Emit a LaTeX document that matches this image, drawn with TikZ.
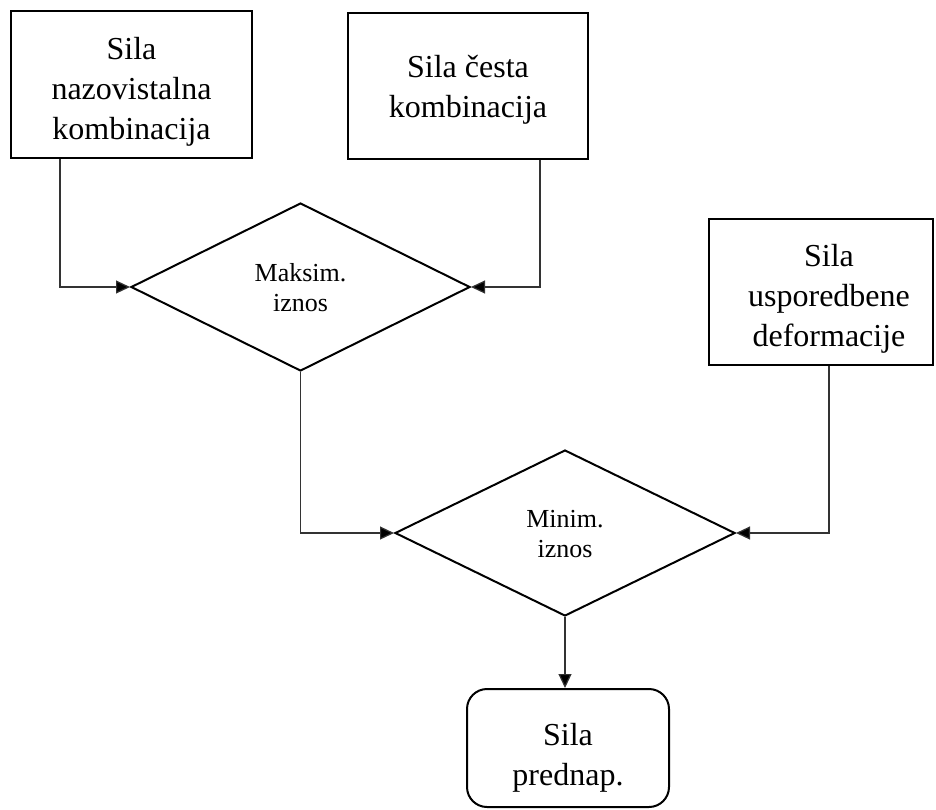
\documentclass[tikz,border=0pt]{standalone}
\usepackage{fontspec}
\setmainfont{Liberation Serif}
\usetikzlibrary{shapes.geometric,arrows.meta}
\newcommand{\lns}[2]{\raisebox{#1}[\height][\depth]{\begin{tabular}{@{}c@{}}#2\end{tabular}}}
\begin{document}
\begin{tikzpicture}[x=1pt,y=-1pt,
  boxnode/.style={draw,line width=2pt,rectangle,inner sep=0pt,
    font=\fontsize{32}{40}\selectfont},
  decnode/.style={draw,line width=2pt,diamond,inner sep=0pt,
    font=\fontsize{26}{30}\selectfont},
  endnode/.style={draw,line width=2pt,rectangle,rounded corners=20pt,inner sep=0pt,
    font=\fontsize{32}{40}\selectfont},
  conn/.style={line width=1.2pt,draw=black!80,-{Triangle[length=14pt,width=13pt,fill=black]}}
]
\useasboundingbox (0,0) rectangle (936,809);
\node[boxnode,minimum width=241pt,minimum height=147pt] (b1) at (131.5,84.5) {\lns{-7pt}{Sila\\nazovistalna\\kombinacija}};
\node[boxnode,minimum width=240pt,minimum height=146pt] (b2) at (468,86) {\lns{-3pt}{Sila česta\\kombinacija}};
\node[boxnode,minimum width=224pt,minimum height=146pt] (b3) at (821,292) {\hspace*{16pt}\lns{-6pt}{Sila\\usporedbene\\deformacije}};
\node[decnode,minimum width=339pt,minimum height=168pt] (d1) at (300.5,287) {\lns{-3pt}{Maksim.\\iznos}};
\node[decnode,minimum width=340pt,minimum height=166pt] (d2) at (565,533) {\lns{-3pt}{Minim.\\iznos}};
\node[endnode,minimum width=202pt,minimum height=118pt] (r) at (568,748) {\lns{-9pt}{Sila\\prednap.}};
\draw[conn] ([xshift=-71.5pt]b1.south) |- (d1.west);
\draw[conn] ([xshift=72pt]b2.south) |- (d1.east);
\draw[conn] (d1.south) |- (d2.west);
\draw[conn] ([xshift=8pt]b3.south) |- (d2.east);
\draw[conn] (d2.south) -- (d2.south |- r.north);
\end{tikzpicture}
\end{document}
